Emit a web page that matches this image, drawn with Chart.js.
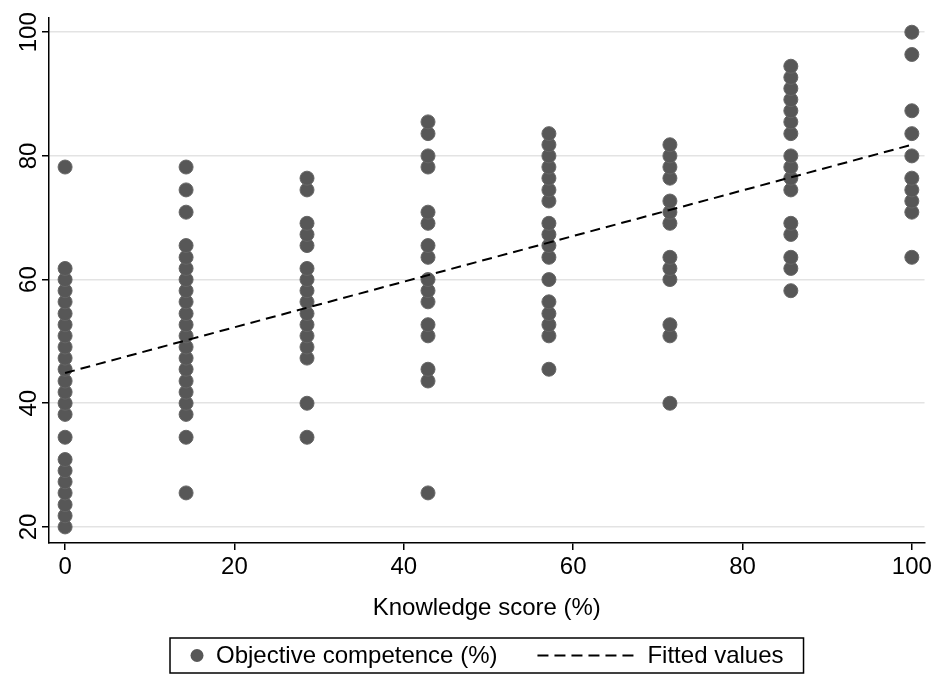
<!DOCTYPE html>
<html>
<head>
<meta charset="utf-8">
<script src="https://cdn.jsdelivr.net/npm/chart.js@4.4.1/dist/chart.umd.min.js"></script>
<style>
  body { margin: 0; background: #fff; }
  #wrap { width: 935px; height: 677px; position: relative; }
</style>
</head>
<body>
<div id="wrap"><canvas id="chart"></canvas></div>
<script>
// knowledge score levels (x) and competence values (y) per level
const knowledgeLevels = [0, 14.29, 28.57, 42.86, 57.14, 71.43, 85.71, 100];
const comp0 = [20.0, 21.8, 23.6, 25.5, 27.3, 29.1, 30.9, 34.5, 38.2, 40.0, 41.8, 43.6, 45.5, 47.3, 49.1, 50.9, 52.7, 54.5, 56.4, 58.2, 60.0, 61.8, 78.2];
const comp14 = [25.5, 34.5, 38.2, 40.0, 41.8, 43.6, 45.5, 47.3, 49.1, 50.9, 52.7, 54.5, 56.4, 58.2, 60.0, 61.8, 63.6, 65.5, 70.9, 74.5, 78.2];
const comp28 = [34.5, 40.0, 47.3, 49.1, 50.9, 52.7, 54.5, 56.4, 58.2, 60.0, 61.8, 65.5, 67.3, 69.1, 74.5, 76.4];
const comp42 = [25.5, 43.6, 45.5, 50.9, 52.7, 56.4, 58.2, 60.0, 63.6, 65.5, 69.1, 70.9, 78.2, 80.0, 83.6, 85.5];
const comp57 = [45.5, 50.9, 52.7, 54.5, 56.4, 60.0, 63.6, 65.5, 67.3, 69.1, 72.7, 74.5, 76.4, 78.2, 80.0, 81.8, 83.6];
const comp71 = [40.0, 50.9, 52.7, 60.0, 61.8, 63.6, 69.1, 70.9, 72.7, 76.4, 78.2, 80.0, 81.8];
const comp85 = [58.2, 61.8, 63.6, 67.3, 69.1, 74.5, 76.4, 78.2, 80.0, 83.6, 85.5, 87.3, 89.1, 90.9, 92.7, 94.5];
const comp100 = [63.6, 70.9, 72.7, 74.5, 76.4, 80.0, 83.6, 87.3, 96.4, 100.0];

// fitted line end points
const fitX = [0, 100];
const fitY = [44.9, 81.8];

const xTicks = [0, 20, 40, 60, 80, 100];
const yTicks = [20, 40, 60, 80, 100];

const labelScatter = "Objective competence (%)";
const labelFit = "Fitted values";
const xTitle = "Knowledge score (%)";

const FONT = '"Liberation Sans", Arial, sans-serif';

const columns = [comp0, comp14, comp28, comp42, comp57, comp71, comp85, comp100];
let scatterPoints = [];
columns.forEach((col, i) => {
    col.forEach((v) => scatterPoints.push({ x: knowledgeLevels[i], y: v }));
});
const fitPoints = fitX.map((x, i) => ({ x: x, y: fitY[i] }));

// rotated y tick labels (stata style)
const yLabels = {
    id: "yLabels",
    afterDraw(chart) {
        const ctx = chart.ctx;
        const sc = chart.scales.y;
        ctx.save();
        ctx.fillStyle = "#000";
        ctx.font = "24px " + FONT;
        ctx.textAlign = "center";
        ctx.textBaseline = "middle";
        yTicks.forEach((v) => {
            ctx.save();
            ctx.translate(29, sc.getPixelForValue(v));
            ctx.rotate(-Math.PI / 2);
            ctx.fillText(String(v), 0, 0);
            ctx.restore();
        });
        ctx.restore();
    },
};

// boxed legend under the axis title
const boxLegend = {
    id: "boxLegend",
    afterDraw(chart) {
        const ctx = chart.ctx;
        const area = chart.chartArea;
        ctx.save();
        ctx.font = "24px " + FONT;
        const w1 = ctx.measureText(labelScatter).width;
        const w2 = ctx.measureText(labelFit).width;
        const dashLen = 96;
        const pad = 20;
        const total = pad + 14 + 12 + w1 + 40 + dashLen + 14 + w2 + pad;
        const cx = (area.left + area.right) / 2;
        const left = cx - total / 2;
        const top = 638, h = 35;
        const midY = top + h / 2;

        ctx.strokeStyle = "#000";
        ctx.lineWidth = 1.5;
        ctx.strokeRect(left, top, total, h);

        let x = left + pad;
        ctx.beginPath();
        ctx.arc(x + 7, midY, 6.5, 0, Math.PI * 2);
        ctx.fillStyle = "#575757";
        ctx.fill();
        x += 14 + 12;

        ctx.fillStyle = "#000";
        ctx.textBaseline = "middle";
        ctx.textAlign = "left";
        ctx.fillText(labelScatter, x, midY + 1);
        x += w1 + 40;

        ctx.beginPath();
        ctx.setLineDash([11, 6]);
        ctx.lineWidth = 2;
        ctx.moveTo(x, midY);
        ctx.lineTo(x + dashLen, midY);
        ctx.stroke();
        ctx.setLineDash([]);
        x += dashLen + 14;

        ctx.fillText(labelFit, x, midY + 1);
        ctx.restore();
    },
};

new Chart(document.getElementById("chart"), {
    type: "scatter",
    data: {
        datasets: [
            {
                label: labelScatter,
                data: scatterPoints,
                backgroundColor: "#575757",
                borderColor: "#666666",
                borderWidth: 1,
                pointRadius: 7,
                order: 2,
            },
            {
                type: "line",
                label: labelFit,
                data: fitPoints,
                borderColor: "#000",
                borderWidth: 2,
                borderDash: [10, 6],
                pointRadius: 0,
                fill: false,
                order: 1,
            },
        ],
    },
    options: {
        responsive: true,
        maintainAspectRatio: false,
        animation: false,
        layout: { padding: { top: 18, right: 10, bottom: 50, left: 0 } },
        plugins: {
            legend: { display: false },
            tooltip: { enabled: false },
        },
        scales: {
            x: {
                type: "linear",
                min: -1.9,
                max: 101.5,
                afterBuildTicks: (s) => { s.ticks = xTicks.map((v) => ({ value: v })); },
                afterFit: (s) => { s.height = 84; },
                grid: { drawOnChartArea: false, drawTicks: true, tickLength: 7, color: "#000", lineWidth: 1.5 },
                border: { display: true, color: "#000", width: 1.5 },
                ticks: { color: "#000", font: { size: 24, family: FONT }, padding: 3, maxRotation: 0 },
                title: { display: true, text: xTitle, color: "#000", font: { size: 24, family: FONT }, padding: { top: 4 } },
            },
            y: {
                type: "linear",
                min: 17.4,
                max: 102.3,
                afterBuildTicks: (s) => { s.ticks = yTicks.map((v) => ({ value: v })); },
                afterFit: (s) => { s.width = 49; },
                grid: { color: "#e3e3e3", lineWidth: 1.5, drawTicks: true, tickLength: 7, tickColor: "#000" },
                border: { display: true, color: "#000", width: 1.5 },
                ticks: { display: false },
            },
        },
    },
    plugins: [yLabels, boxLegend],
});
</script>
</body>
</html>
